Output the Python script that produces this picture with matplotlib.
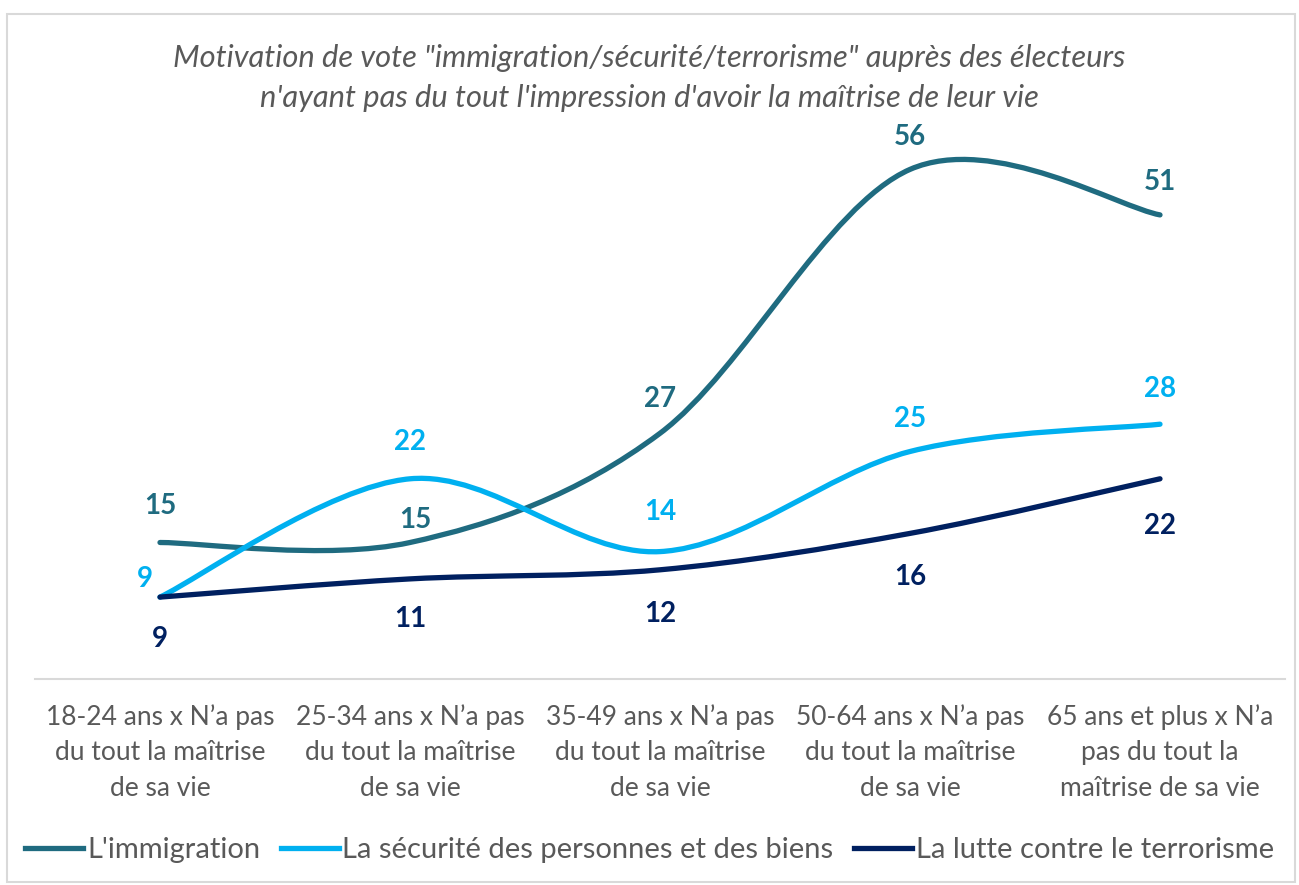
import matplotlib
matplotlib.use("Agg")
import matplotlib.pyplot as plt
from matplotlib.path import Path
from matplotlib.patches import PathPatch, Rectangle
from matplotlib.lines import Line2D
import numpy as np

categories = [
    "18-24 ans x N\u2019a pas\ndu tout la maîtrise\nde sa vie",
    "25-34 ans x N\u2019a pas\ndu tout la maîtrise\nde sa vie",
    "35-49 ans x N\u2019a pas\ndu tout la maîtrise\nde sa vie",
    "50-64 ans x N\u2019a pas\ndu tout la maîtrise\nde sa vie",
    "65 ans et plus x N\u2019a\npas du tout la\nmaîtrise de sa vie",
]
immigration = [15, 15, 27, 56, 51]
securite = [9, 22, 14, 25, 28]
terrorisme = [9, 11, 12, 16, 22]
series_names = ["L'immigration", "La sécurité des personnes et des biens", "La lutte contre le terrorisme"]
title = "Motivation de vote \"immigration/sécurité/terrorisme\" auprès des électeurs\nn'ayant pas du tout l'impression d'avoir la maîtrise de leur vie"

colors = ["#1F6B80", "#00B0F0", "#002060"]
# label offsets in pixels (dx, dy)
offsets = [
    [(0, 37), (5, 23), (0, 34), (0, 32), (0, 33)],
    [(-15, 18), (0, 37), (0, 40), (0, 32), (0, 35)],
    [(0, -42), (0, -40), (0, -44), (0, -44), (0, -47)],
]

FONT = "Lato"
GREY = "#595959"

fig = plt.figure(figsize=(12.99, 8.85), dpi=100)
W, H = 1299, 885
fig.patches.append(Rectangle((7 / W, 1 - 882 / H), (1295 - 7) / W, (882 - 14) / H,
                             transform=fig.transFigure, fill=False, edgecolor="#D9D9D9", lw=1.5))
ax = fig.add_axes([35 / W, 1 - 679 / H, 1250 / W, (679 - 133) / H])
ax.set_xlim(-0.5, len(categories) - 0.5)
ax.set_ylim(0, 60)
for s in ["top", "left", "right"]:
    ax.spines[s].set_visible(False)
ax.spines["bottom"].set_color("#D9D9D9")
ax.spines["bottom"].set_linewidth(1.5)
ax.set_yticks([])
ax.set_xticks(range(len(categories)))
ax.set_xticklabels(categories, fontsize=19, color=GREY, family=FONT, linespacing=1.52)
ax.tick_params(axis="x", length=0, pad=18)


def smooth_path(xs, ys):
    pts = np.column_stack([xs, ys]).astype(float)
    n = len(pts)
    verts = [pts[0]]
    codes = [Path.MOVETO]
    for i in range(n - 1):
        p0 = pts[max(i - 1, 0)]
        p1 = pts[i]
        p2 = pts[i + 1]
        p3 = pts[min(i + 2, n - 1)]
        c1 = p1 + (p2 - p0) / 6.0
        c2 = p2 - (p3 - p1) / 6.0
        verts += [c1, c2, p2]
        codes += [Path.CURVE4] * 3
    return Path(verts, codes)


all_series = [immigration, securite, terrorisme]
xs = np.arange(len(categories))
for vals, col, offs in zip(all_series, colors, offsets):
    patch = PathPatch(smooth_path(xs, vals), facecolor="none", edgecolor=col, lw=3.8,
                      capstyle="round", joinstyle="round")
    ax.add_patch(patch)
    for x, v, (dx, dy) in zip(xs, vals, offs):
        ax.annotate(str(v), (x, v), xytext=(dx, dy), textcoords="offset pixels",
                    ha="center", va="center", fontsize=20, fontweight="bold",
                    color=col, family=FONT)

fig.text(0.5, 1 - 78 / H, title, ha="center", va="center", fontsize=22.2, style="italic",
         color=GREY, family=FONT, linespacing=1.5)

handles = [Line2D([0], [0], color=c, lw=3.8) for c in colors]
leg = fig.legend(handles, series_names, loc="center", bbox_to_anchor=(0.5, 1 - 850 / H), ncol=3,
                 frameon=False, handlelength=2.0, handletextpad=0.12, columnspacing=0.7,
                 prop={"family": FONT, "size": 21})
for t in leg.get_texts():
    t.set_color(GREY)

fig.savefig("out.png", dpi=100)
